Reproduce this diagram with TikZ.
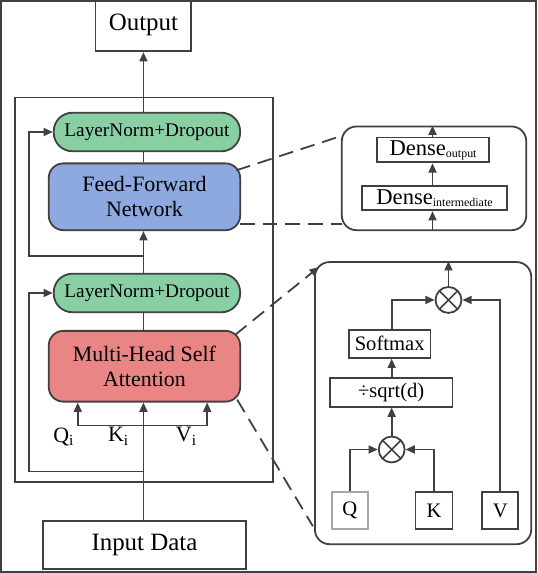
\documentclass[tikz,border=0pt]{standalone}
\usepackage{fontspec}
\setmainfont{Liberation Serif}
\usetikzlibrary{arrows.meta,calc}
\definecolor{lncol}{HTML}{88D0A4}
\definecolor{ffncol}{HTML}{8EA8E0}
\definecolor{attcol}{HTML}{EA8585}
\definecolor{linecol}{HTML}{404040}
\begin{document}
\begin{tikzpicture}[x=0.75pt,y=-0.75pt,
  every path/.style={draw=linecol,line width=1.35pt},
  arr/.style={-{Triangle[length=7pt,width=6pt]}},
  plainbox/.style={draw=linecol,line width=1.35pt,inner sep=0pt,align=center},
  lnbox/.style={plainbox,fill=lncol,rounded corners=14pt,minimum width=140.25pt,minimum height=29pt,font=\fontsize{14.5}{16}\selectfont},
  bigbox/.style={plainbox,rounded corners=11pt,minimum width=144pt,font=\fontsize{16.5}{19}\selectfont},
  detbox/.style={plainbox,rounded corners=11pt},
  smallbox/.style={plainbox,font=\fontsize{15.5}{18}\selectfont},
  mult/.style={draw=linecol,line width=1.35pt,circle,minimum size=19.5pt,inner sep=0pt,path picture={
      \draw[line width=1.2pt,draw=linecol] (path picture bounding box.north west)++(0.2929*9.75pt,-0.2929*9.75pt) -- ++(14.14pt,-14.14pt);
      \draw[line width=1.2pt,draw=linecol] (path picture bounding box.north east)++(-0.2929*9.75pt,-0.2929*9.75pt) -- ++(-14.14pt,-14.14pt);}},
  dashline/.style={dash pattern=on 11pt off 6pt},
  lbl/.style={inner sep=0pt,font=\fontsize{16.5}{19}\selectfont}
]
\useasboundingbox (0,0) rectangle (537,573);
\coordinate (spine) at (143,0);

% main column
\node[plainbox,minimum width=72pt,minimum height=39pt,font=\fontsize{18.75}{22}\selectfont] (output) at (143,24.5) {Output};
\node[plainbox,minimum width=194.25pt,minimum height=289.5pt] (enc) at (143.5,290) {};
\node[lnbox] (ln1) at (146.5,131.5) {LayerNorm+Dropout};
\node[bigbox,fill=ffncol,minimum height=50.25pt] (ffn) at (144,196.5) {Feed-Forward\\Network};
\node[lnbox] (ln2) at (146.5,293) {LayerNorm+Dropout};
\node[bigbox,fill=attcol,minimum height=53.25pt] (mhsa) at (144,366.5) {Multi-Head Self\\Attention};
\node[plainbox,minimum width=153pt,minimum height=36pt,font=\fontsize{18.75}{22}\selectfont] (input) at (144,546) {Input Data};

\node[lbl] (qi) at (63,437) {Q\textsubscript{i}};
\node[lbl] (ki) at (118,437) {K\textsubscript{i}};
\node[lbl] (vi) at (186,437) {V\textsubscript{i}};

\coordinate (qkv) at (143,426);
\coordinate (res1) at (143,256);
\coordinate (res2) at (143,472);
\coordinate (resx1) at (28,256);
\coordinate (resx2) at (28,472);

\draw[arr] (input.north -| spine) -- (mhsa.south -| spine);
\draw (mhsa.north -| spine) -- (ln2.south -| spine);
\draw[arr] (ln2.north -| spine) -- (ffn.south -| spine);
\draw (ffn.north -| spine) -- (ln1.south -| spine);
\draw[arr] (ln1.north -| spine) -- (output.south -| spine);
\draw[arr] (qkv) -| ($(mhsa.south west)+(30,0)$);
\draw[arr] (qkv) -| ($(mhsa.south east)+(-34,0)$);
\draw[arr] (res1) -- (resx1) |- (ln1.west);
\draw[arr] (res2) -- (resx2) |- (ln2.west);

% FFN detail
\node[detbox,minimum width=138.75pt,minimum height=78pt] (fbox) at (434.5,178) {};
\node[smallbox,minimum width=84.75pt,minimum height=18.75pt,font=\fontsize{17}{19}\selectfont] (dout) at (433.5,149.5) {Dense\fontsize{9}{10}\selectfont\raisebox{-0.35ex}{output}};
\node[smallbox,minimum width=109.5pt,minimum height=18pt,font=\fontsize{17}{19}\selectfont] (dint) at (435,198) {Dense\fontsize{9}{10}\selectfont\raisebox{-0.35ex}{intermediate}};
\coordinate (fx) at (433,0);
\draw[arr] (fbox.south -| fx) -- (dint.south -| fx);
\draw[arr] (dint.north -| fx) -- (dout.south -| fx);
\draw[arr] (dout.north -| fx) -- (fbox.north -| fx);

% attention detail
\node[detbox,minimum width=162.75pt,minimum height=212.25pt] (abox) at (423.5,403.5) {};
\node[mult] (m1) at (449,300) {};
\node[smallbox,minimum width=61.5pt,minimum height=21pt] (soft) at (390,344) {Softmax};
\node[smallbox,minimum width=92.25pt,minimum height=21.75pt] (sqrt) at (391.5,392.5) {÷sqrt(d)};
\node[mult] (m2) at (392,450) {};
\node[smallbox,draw=gray!70,minimum width=27pt,minimum height=27.75pt] (q) at (350,511.5) {Q};
\node[smallbox,minimum width=27.75pt,minimum height=27.75pt] (k) at (434.5,511.5) {K};
\node[smallbox,minimum width=27pt,minimum height=27.75pt] (v) at (501,511.5) {V};

\draw[arr] (m1.north) -- (m1.north |- abox.north);
\draw[arr] (q.north) |- (m2.west);
\draw[arr] (k.north) |- (m2.east);
\draw[arr] (m2.north) -- (sqrt.south -| m2);
\draw[arr] (sqrt.north -| m2) -- (soft.south -| m2);
\draw[arr] (soft.north -| m2) |- (m1.west);
\draw[arr] (v.north) |- (m1.east);

% dashed zoom lines
\coordinate (f1a) at (236,170);
\coordinate (f1b) at (343,135);
\coordinate (f2a) at (240,224);
\coordinate (f2b) at (342,224);
\coordinate (a1a) at (235,335);
\coordinate (a1b) at (319,267);
\coordinate (a2a) at (237,400);
\coordinate (a2b) at (313,527);
\draw[dashline] (f1a) -- (f1b);
\draw[dashline] (f2a) -- (f2b);
\draw[dashline,arr] (a1a) -- (a1b);
\draw[dashline] (a2a) -- (a2b);
\end{tikzpicture}
\end{document}
